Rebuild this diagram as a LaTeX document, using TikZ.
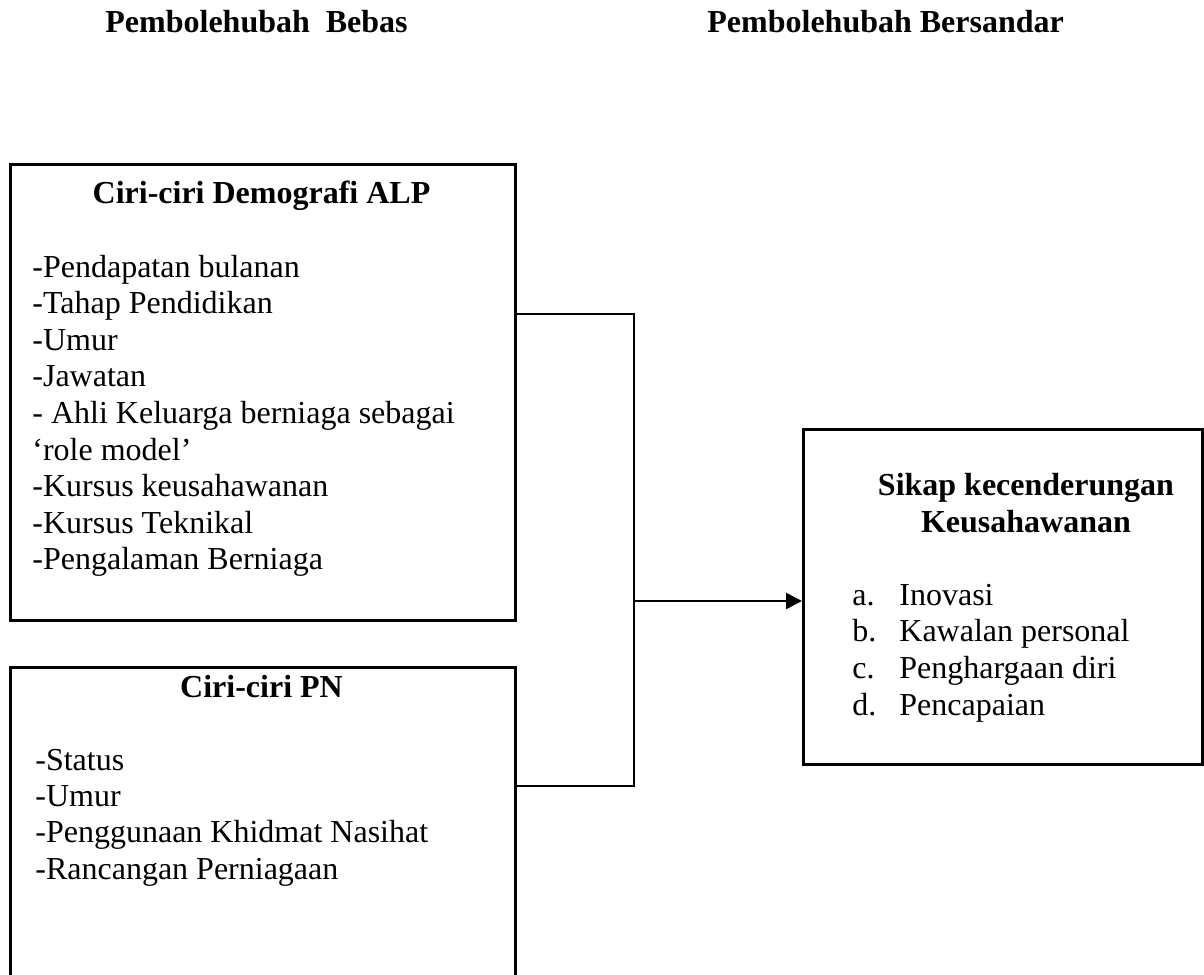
\documentclass[tikz,border=0pt]{standalone}
\usepackage{fontspec}
\setmainfont{Liberation Serif}
\usetikzlibrary{arrows.meta,positioning}

\tikzset{
  box/.style={draw, line width=1.3pt, rectangle, inner sep=0pt, anchor=north west},
  item/.style={anchor=base west, inner sep=0pt, font=\fontsize{16}{18.3}\selectfont},
  head/.style={anchor=base, inner sep=0pt, font=\fontsize{16}{18.3}\selectfont\bfseries},
  link/.style={line width=1.3pt}
}

\begin{document}
\begin{tikzpicture}[x=0.5pt,y=-0.5pt]
  \clip (0,0) rectangle (1204,974);

  % Headings
  \node[head, anchor=base west] (bebas) at (105,33) {Pembolehubah\ \ Bebas};
  \node[head, anchor=base west] (bersandar) at (707,33) {Pembolehubah Bersandar};

  % Ciri-ciri Demografi ALP
  \node[box, minimum width=252.5pt, minimum height=228pt] (demo) at (9,163) {};
  \node[head] (demotitle) at (261.5,203) {Ciri-ciri Demografi ALP};
  \foreach \t [count=\i] in {-Pendapatan bulanan, -Tahap Pendidikan, -Umur, -Jawatan,
      - Ahli Keluarga berniaga sebagai, ‘role model’, -Kursus keusahawanan,
      -Kursus Teknikal, -Pengalaman Berniaga}
    \node[item] (demo\i) at (32,{277+(\i-1)*36.6}) {\t};

  % Ciri-ciri PN
  \node[box, minimum width=252.5pt, minimum height=170pt] (pn) at (9,666) {};
  \node[head] (pntitle) at (261.5,697) {Ciri-ciri PN};
  \foreach \t [count=\i] in {-Status, -Umur, -Penggunaan Khidmat Nasihat, -Rancangan Perniagaan}
    \node[item] (pn\i) at (35,{770+(\i-1)*36.4}) {\t};

  % Sikap kecenderungan Keusahawanan
  \node[box, minimum width=199.5pt, minimum height=167.5pt] (sikap) at (802,428) {};
  \node[head] (sikaptitle) at (1026,495) {Sikap kecenderungan};
  \node[head] (sikaptitle2) at (1026,532) {Keusahawanan};
  \foreach \l/\t [count=\i] in {a./Inovasi, b./Kawalan personal, c./Penghargaan diri, d./Pencapaian} {
    \node[item] (sikapl\i) at (852,{605+(\i-1)*36.7}) {\l};
    \node[item] (sikap\i) at (899,{605+(\i-1)*36.7}) {\t};
  }

  % Connections
  \coordinate (jtop) at (634,314);
  \coordinate (jbot) at (634,786);
  \coordinate (jmid) at (634,601);
  \draw[link] (demo.east |- jtop) -- (jtop) -- (jbot) -- (pn.east |- jbot);
  \draw[link, -{Triangle[length=8pt, width=8pt]}] (jmid) -- (sikap.west |- jmid);

\end{tikzpicture}
\end{document}
